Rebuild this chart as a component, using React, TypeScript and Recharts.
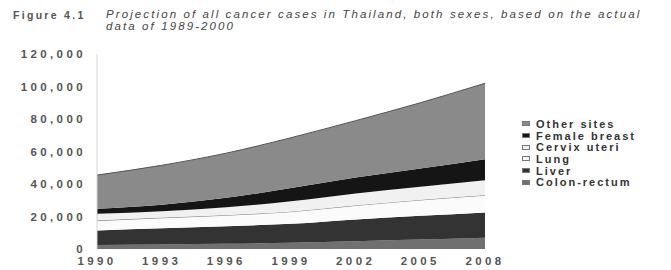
import React from 'react'
import { AreaChart, Area, XAxis, YAxis } from 'recharts'

// Values (cases per year)
const years = ['1990', '1993', '1996', '1999', '2002', '2005', '2008']
const colonRectum = [2500, 2800, 3200, 3800, 4800, 5800, 7000]
const liver = [8900, 10000, 10800, 11700, 13400, 14600, 15500]
const lung = [6100, 6400, 6800, 7500, 8600, 9800, 10600]
const cervixUteri = [4200, 4100, 4900, 6400, 7400, 8100, 9200]
const femaleBreast = [3000, 4000, 5800, 8100, 9800, 11200, 13000]
const otherSites = [20800, 24200, 27500, 31000, 35000, 40500, 46700]
const yTicks = [0, 20000, 40000, 60000, 80000, 100000, 120000]

// Stack order, bottom to top
const series = [
  { key: 'colon', name: 'Colon-rectum', values: colonRectum, fill: '#707070', stroke: 'none' },
  { key: 'liver', name: 'Liver', values: liver, fill: '#333333', stroke: 'none' },
  { key: 'lung', name: 'Lung', values: lung, fill: '#fbfbfb', stroke: '#7a7a7a' },
  { key: 'cervix', name: 'Cervix uteri', values: cervixUteri, fill: '#f1f1f1', stroke: 'none' },
  { key: 'breast', name: 'Female breast', values: femaleBreast, fill: '#151515', stroke: 'none' },
  { key: 'other', name: 'Other sites', values: otherSites, fill: '#8a8a8a', stroke: '#555' },
]

const data = years.map((year, i) => {
  const row: Record<string, string | number> = { year }
  series.forEach(s => { row[s.key] = s.values[i] })
  return row
})

const font = '"Liberation Sans", Arial, sans-serif'
const tickStyle = { fontSize: 11.5, fontWeight: 700, fill: '#555', fontFamily: font, letterSpacing: 3.4 }

export default function App() {
  return (
    <div style={{ position: 'fixed', top: 0, left: 0, width: 671, height: 270, background: '#fff', fontFamily: font }}>
      <div style={{ position: 'absolute', left: 13, top: 9, fontSize: 10.5, fontWeight: 700, color: '#555', letterSpacing: 2.3 }}>
        Figure 4.1
      </div>
      <div style={{ position: 'absolute', left: 106, top: 8, fontSize: 11.5, fontStyle: 'italic', color: '#444', letterSpacing: 2.1, lineHeight: '12px' }}>
        Projection of all cancer cases in Thailand, both sexes, based on the actual<br />
        data of 1989-2000
      </div>

      <AreaChart width={671} height={270} data={data} margin={{ top: 54, right: 186, bottom: 0, left: 0 }}>
        <XAxis
          dataKey="year"
          axisLine={false}
          tickLine={false}
          tickSize={0}
          tickMargin={8}
          height={21}
          interval={0}
          tick={tickStyle}
        />
        <YAxis
          width={97}
          domain={[0, 120000]}
          ticks={yTicks}
          interval={0}
          axisLine={{ stroke: '#d4d4d4' }}
          tickLine={false}
          tickSize={0}
          tickMargin={11}
          tick={tickStyle}
          tickFormatter={(v: number) => v.toLocaleString('en-US')}
        />
        {series.map(s => (
          <Area
            key={s.key}
            dataKey={s.key}
            name={s.name}
            stackId="1"
            type="monotone"
            fill={s.fill}
            fillOpacity={1}
            stroke={s.stroke}
            strokeWidth={1}
            isAnimationActive={false}
          />
        ))}
      </AreaChart>

      <div style={{ position: 'absolute', left: 522, top: 118 }}>
        {[...series].reverse().map(s => (
          <div key={s.key} style={{ display: 'flex', alignItems: 'center', height: 11.7, fontSize: 11, fontWeight: 700, color: '#333', letterSpacing: 2 }}>
            <span style={{ width: 8, height: 5, marginRight: 6, background: s.fill, border: '1px solid #777', boxSizing: 'border-box' }} />
            {s.name}
          </div>
        ))}
      </div>
    </div>
  )
}
